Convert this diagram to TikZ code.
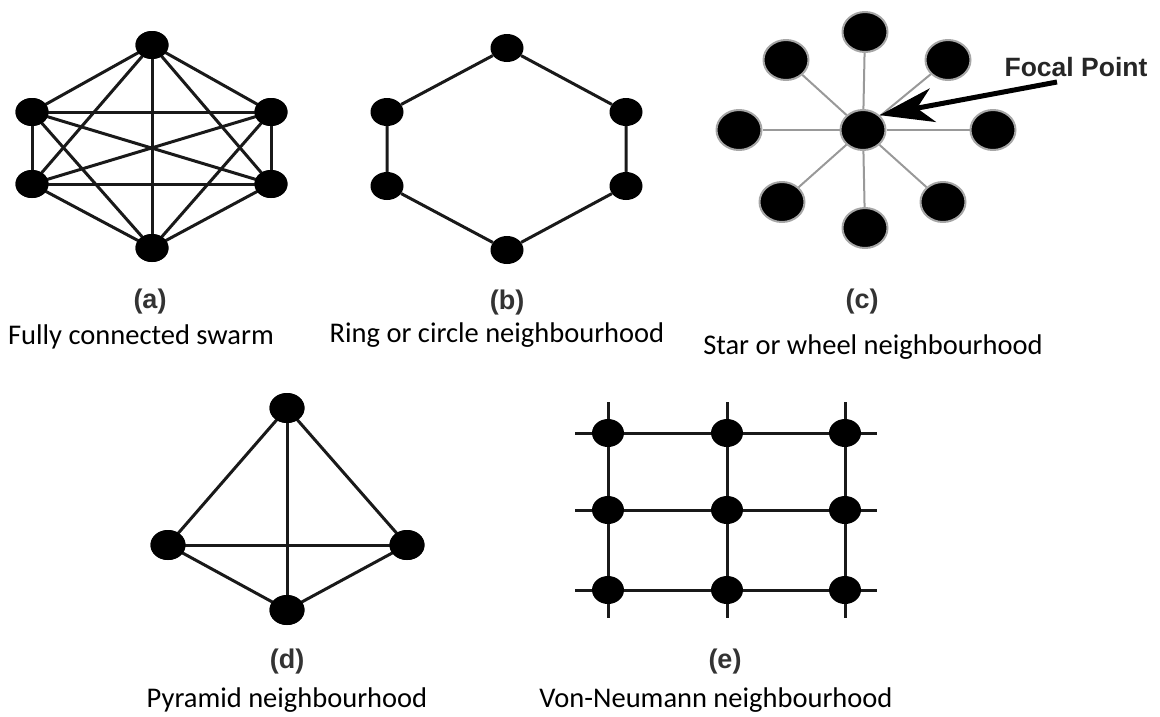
\documentclass[tikz,border=0pt]{standalone}
\usepackage{fontspec}
\setmainfont{Carlito}
\newfontfamily\arialf{Liberation Sans}
\usetikzlibrary{shapes.geometric,arrows.meta}
\tikzset{
  dot/.style={shape=ellipse, fill=black, inner sep=0pt, minimum width=33pt, minimum height=28pt},
  stardot/.style={shape=ellipse, fill=black, draw=gray!70, line width=2pt, inner sep=0pt, minimum width=45pt, minimum height=40pt},
  link/.style={line width=3pt, black!90},
  spoke/.style={line width=2pt, gray!80},
  sub/.style={font=\arialf\bfseries\fontsize{27}{30}\selectfont, text=black!80},
  caption/.style={font=\fontsize{28.5}{32}\selectfont, text=black}
}
\begin{document}
\begin{tikzpicture}[x=1pt,y=-1pt]
\useasboundingbox (0,0) rectangle (1160,716);
% (a) fully connected
\node[dot] (a1) at (152,45) {};
\node[dot] (a2) at (32,112) {};
\node[dot] (a3) at (271,112) {};
\node[dot] (a4) at (32,184) {};
\node[dot] (a5) at (271,184) {};
\node[dot] (a6) at (152,248) {};
\foreach \u/\v in {a1/a2,a1/a3,a1/a4,a1/a5,a1/a6,a2/a3,a2/a4,a2/a5,a2/a6,a3/a4,a3/a5,a3/a6,a4/a5,a4/a6,a5/a6}
  \draw[link] (\u.center) -- (\v.center);
\foreach \n in {a1,a2,a3,a4,a5,a6} \node[dot] at (\n) {};
% (b) ring
\node[dot] (b1) at (507,48) {};
\node[dot] (b2) at (387,112) {};
\node[dot] (b3) at (626,112) {};
\node[dot] (b4) at (387,186) {};
\node[dot] (b5) at (626,186) {};
\node[dot] (b6) at (507,250) {};
\draw[link] (b1) -- (b2) -- (b4) -- (b6) -- (b5) -- (b3) -- (b1);
% (c) star
\node[stardot] (c0) at (863,130) {};
\node[stardot] (c1) at (865,32) {};
\node[stardot] (c2) at (786,60) {};
\node[stardot] (c3) at (948,60) {};
\node[stardot] (c4) at (739,130) {};
\node[stardot] (c5) at (993,130) {};
\node[stardot] (c6) at (782,202) {};
\node[stardot] (c7) at (865,228) {};
\node[stardot] (c8) at (943,202) {};
\foreach \v in {c1,c2,c3,c4,c5,c6,c7,c8} \draw[spoke] (c0) -- (\v);
\node[font=\arialf\bfseries\fontsize{26.5}{30}\selectfont, text=black!85] (fp) at (1076,67) {Focal Point};
\coordinate (fpt) at (1057,82);
\draw[line width=5pt, -{Stealth[length=54pt,width=34pt,inset=16pt]}] (fpt) -- (c0.north east);
% (d) pyramid
\node[dot, minimum width=35pt, minimum height=30pt] (d1) at (287,408) {};
\node[dot, minimum width=35pt, minimum height=30pt] (d2) at (168,545) {};
\node[dot, minimum width=35pt, minimum height=30pt] (d3) at (407,545) {};
\node[dot, minimum width=35pt, minimum height=30pt] (d4) at (287,610) {};
\foreach \u/\v in {d1/d2,d1/d3,d1/d4,d2/d3,d2/d4,d3/d4}
  \draw[link] (\u.center) -- (\v.center);
\foreach \n in {d1,d2,d3,d4} \node[dot, minimum width=35pt, minimum height=30pt] at (\n) {};
% (e) von Neumann grid
\foreach \c/\x in {1/608,2/727,3/845}{
  \foreach \r/\y in {1/433,2/510,3/590}{
    \node[dot, minimum width=32pt] (e\r\c) at (\x,\y) {};
  }
  \coordinate (eT\c) at (\x,402);
  \coordinate (eB\c) at (\x,618);
}
\foreach \r/\y in {1/433,2/510,3/590}{
  \coordinate (eL\r) at (575,\y);
  \coordinate (eR\r) at (877,\y);
}
\foreach \r in {1,2,3} \draw[link] (eL\r) -- (e\r1) -- (e\r2) -- (e\r3) -- (eR\r);
\foreach \c in {1,2,3} \draw[link] (eT\c) -- (e1\c) -- (e2\c) -- (e3\c) -- (eB\c);
% labels
\node[sub] (la) at (150,302) {(a)};
\node[caption] (ta) at (141,337) {Fully connected swarm};
\node[sub] (lb) at (507,303) {(b)};
\node[caption] (tb) at (497,335) {Ring or circle neighbourhood};
\node[sub] (lc) at (862,302) {(c)};
\node[caption] (tc) at (873,347) {Star or wheel neighbourhood};
\node[sub] (ld) at (287,662) {(d)};
\node[caption] (td) at (287,700) {Pyramid neighbourhood};
\node[sub] (le) at (725,662) {(e)};
\node[caption] (te) at (716,700) {Von-Neumann neighbourhood};
\end{tikzpicture}
\end{document}
